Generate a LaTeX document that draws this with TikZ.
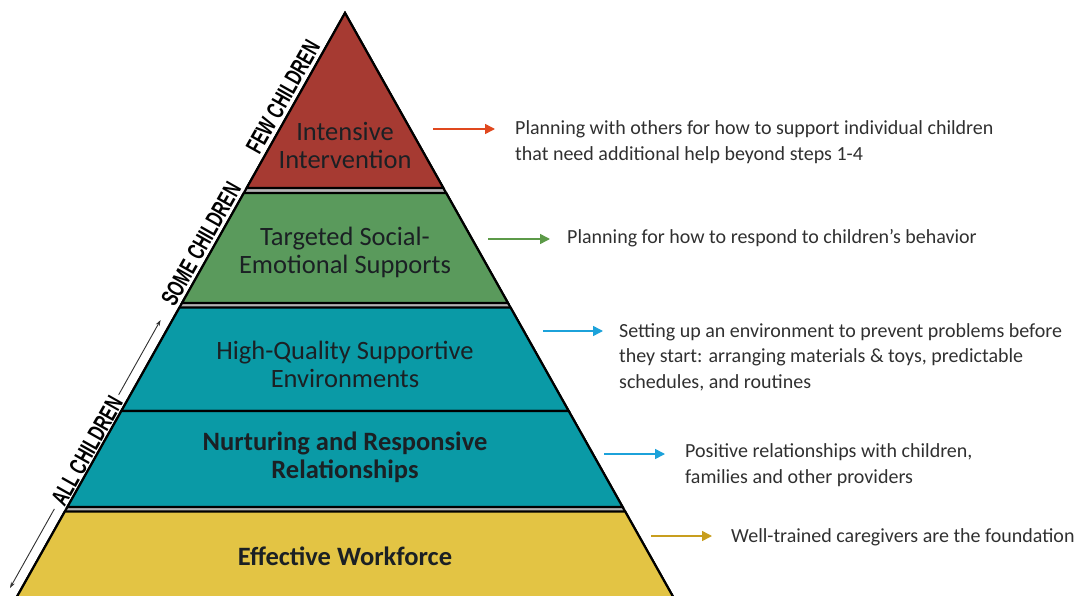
\documentclass[tikz,border=0pt]{standalone}
\usepackage{fontspec}
\setmainfont{Carlito}
\newfontfamily\condfont[FakeStretch=0.68]{Liberation Sans}
\usetikzlibrary{arrows.meta}
\definecolor{cred}{HTML}{A63A32}
\definecolor{cgreen}{HTML}{5A9A5C}
\definecolor{cteal}{HTML}{0A9AA6}
\definecolor{cyellow}{HTML}{E3C444}
\definecolor{cgap}{HTML}{B4B4B4}
\definecolor{labtext}{HTML}{1B2024}
\definecolor{desctext}{HTML}{303030}
\definecolor{ared}{HTML}{E0481E}
\definecolor{agreen}{HTML}{5C9A48}
\definecolor{ablue}{HTML}{1CA2DA}
\definecolor{agold}{HTML}{C89E1E}
\newcommand\pyrlayer[3]{%
  \filldraw[fill=#1,layerline] ({345-0.562*(#2-13)},#2) -- ({345+0.562*(#2-13)},#2)
    -- ({345+0.562*(#3-13)},#3) -- ({345-0.562*(#3-13)},#3) -- cycle;}
\begin{document}
\begin{tikzpicture}[x=1pt,y=-1pt,
  layerline/.style={draw=black,line width=2.2pt,line join=miter},
  lab/.style={align=center,inner sep=0pt,text=labtext,font=\fontsize{26.5}{28}\selectfont},
  labbold/.style={lab,font=\fontsize{26.5}{27.5}\selectfont\bfseries},
  desc/.style={anchor=west,align=left,inner sep=0pt,text=desctext,font=\fontsize{20}{25.5}\selectfont},
  side/.style={inner sep=1pt,rotate=60.6,text=black,font=\condfont\bfseries\fontsize{24}{24}\selectfont},
  arr/.style={line width=1.5pt,-{Triangle[length=10pt,width=10pt]}},
  dim/.style={draw=desctext,line width=0.9pt,-{Stealth[length=6pt,width=4pt]}}]
\useasboundingbox (0,0) rectangle (1078,596);
\begin{scope}
\clip (0,0) rectangle (1078,596);
\filldraw[fill=cgap,layerline] (345,13) -- ({345+0.562*620},633) -- ({345-0.562*620},633) -- cycle;
\pyrlayer{cred}{13}{188}
\pyrlayer{cgreen}{193}{303}
\pyrlayer{cteal}{307.5}{411}
\pyrlayer{cteal}{411}{507}
\pyrlayer{cyellow}{511.5}{640}
\end{scope}

\node[lab] (l1) at (345,145) {Intensive\\Intervention};
\node[lab] (l2) at (345,252) {Targeted Social-\\Emotional Supports};
\node[lab] (l3) at (345,364) {High-Quality Supportive\\Environments};
\node[labbold] (l4) at (345,457.5) {Nurturing and Responsive\\Relationships};
\node[labbold] (l5) at (345,556) {Effective Workforce};

\node[side] (few) at (283,97) {FEW CHILDREN};
\node[side] (some) at (201,244) {SOME CHILDREN};
\node[side] (all) at (87,451) {ALL CHILDREN};
\coordinate (alltop) at (160.6,320);
\coordinate (allbot) at (10,588);
\draw[dim,shorten <=3pt] (all.east) -- (alltop);
\draw[dim,shorten <=5pt] (all.west) -- (allbot);

\node[desc] (d1) at (515,142) {Planning with others for how to support individual children\\that need additional help beyond steps 1-4};
\node[desc] (d2) at (567,238) {Planning for how to respond to children’s behavior};
\node[desc] (d3) at (619,357) {Setting up an environment to prevent problems before\\they start: arranging materials \& toys, predictable\\schedules, and routines};
\node[desc] (d4) at (685,465) {Positive relationships with children,\\families and other providers};
\node[desc] (d5) at (731,537) {Well-trained caregivers are the foundation};

\coordinate (s1) at (433,129);
\coordinate (s2) at (488,239);
\coordinate (s3) at (543,331);
\coordinate (s4) at (604,454);
\coordinate (s5) at (651,536);
\draw[arr,ared,shorten >=20pt] (s1) -- (d1.west |- s1);
\draw[arr,agreen,shorten >=17pt] (s2) -- (d2.west |- s2);
\draw[arr,ablue,shorten >=16pt] (s3) -- (d3.west |- s3);
\draw[arr,ablue,shorten >=20pt] (s4) -- (d4.west |- s4);
\draw[arr,agold,shorten >=19pt] (s5) -- (d5.west |- s5);
\end{tikzpicture}
\end{document}
